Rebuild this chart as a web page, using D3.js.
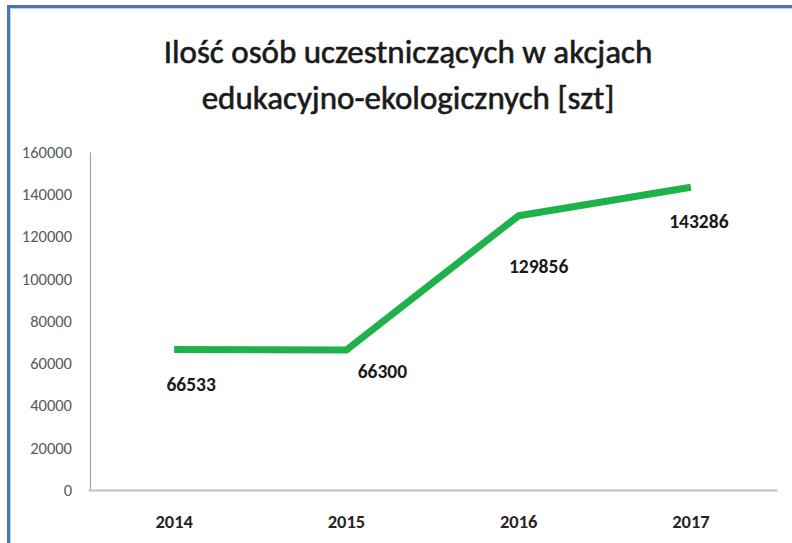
<!DOCTYPE html>
<html>
<head>
<meta charset="utf-8">
<script src="https://cdn.jsdelivr.net/npm/d3@7.9.0/dist/d3.min.js"></script>
<style>
  html, body { margin: 0; padding: 0; background: #fff; }
  svg { display: block; }
</style>
</head>
<body>
<svg id="chart" width="792" height="543"></svg>
<script>
// data
const years = ['2014', '2015', '2016', '2017'];
const participants = [66533, 66300, 129856, 143286];
const yTicks = [0, 20000, 40000, 60000, 80000, 100000, 120000, 140000, 160000];
const titleLines = ['Ilość osób uczestniczących w akcjach', 'edukacyjno-ekologicznych [szt]'];

// hand-placed data label offsets (like the original Excel chart)
const labelOffsets = [[17, 42], [36, 28], [20, 57], [8, 41]];

const svg = d3.select('#chart');
const font = 'Carlito, Calibri, Lato, sans-serif';

// frame
svg.append('path')
    .attr('d', 'M8.5,543 L8.5,6.5 L792,6.5')
    .attr('fill', 'none')
    .attr('stroke', '#4a74b0')
    .attr('stroke-width', 3);
svg.append('path')
    .attr('d', 'M10.5,543 L10.5,8.5 L792,8.5')
    .attr('fill', 'none')
    .attr('stroke', '#bcd0ec')
    .attr('stroke-width', 1);

// title
svg.append('g')
    .selectAll('text')
    .data(titleLines)
    .enter()
    .append('text')
    .attr('x', 408)
    .attr('y', (_, i) => 63 + i * 46)
    .attr('text-anchor', 'middle')
    .attr('font-family', font)
    .attr('font-size', 33)
    .attr('fill', '#1a1a1a')
    .attr('stroke', '#1a1a1a')
    .attr('stroke-width', 0.6)
    .text((d) => d);

const x = d3.scaleBand().domain(years).range([88, 777]);
const y = d3.scaleLinear().domain([0, 160000]).range([490, 152]);

// y axis
const yAxis = svg.append('g')
    .attr('transform', 'translate(90,0)')
    .call(d3.axisLeft(y).tickValues(yTicks).tickFormat(d3.format('d')).tickSize(0).tickPadding(18));
yAxis.select('.domain').attr('stroke', '#a6a6a6').attr('stroke-width', 1.2);
yAxis.selectAll('text')
    .attr('font-family', font)
    .attr('font-size', 16.5)
    .attr('fill', '#595959');

// x axis
const xAxis = svg.append('g')
    .attr('transform', 'translate(0,490)')
    .call(d3.axisBottom(x).tickSize(0).tickPadding(25));
xAxis.select('.domain').attr('stroke', '#bfbfbf').attr('stroke-width', 2);
xAxis.selectAll('text')
    .attr('font-family', font)
    .attr('font-size', 18.5)
    .attr('font-weight', 'bold')
    .attr('fill', '#262626');

// line
const pts = years.map((yr, i) => ({ year: yr, value: participants[i] }));
const line = d3.line()
    .x((d) => x(d.year) + x.bandwidth() / 2)
    .y((d) => y(d.value));

svg.append('path')
    .datum(pts)
    .attr('d', line)
    .attr('fill', 'none')
    .attr('stroke', '#1fb24a')
    .attr('stroke-width', 7)
    .attr('stroke-linejoin', 'round');

// data labels
svg.append('g')
    .selectAll('text')
    .data(pts)
    .enter()
    .append('text')
    .attr('x', (d, i) => x(d.year) + x.bandwidth() / 2 + labelOffsets[i][0])
    .attr('y', (d, i) => y(d.value) + labelOffsets[i][1])
    .attr('text-anchor', 'middle')
    .attr('font-family', font)
    .attr('font-size', 19.5)
    .attr('font-weight', 'bold')
    .attr('fill', '#1a1a1a')
    .text((d) => d.value);
</script>
</body>
</html>
